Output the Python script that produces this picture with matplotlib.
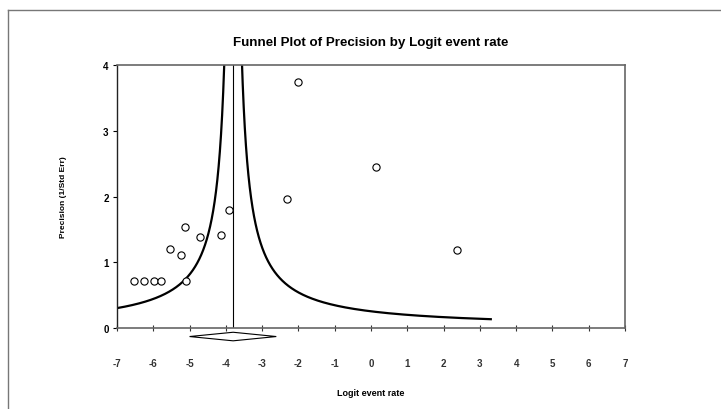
import numpy as np
import matplotlib.pyplot as plt
from matplotlib.patches import Polygon
from matplotlib.lines import Line2D

# study points: logit event rate vs precision (1/SE)
logit_rate = [-6.53, -6.26, -5.97, -5.79, -5.11, -5.55, -5.23, -5.13, -4.71,
              -4.14, -3.92, -2.32, -2.02, 0.15, 2.38]
precision = [0.72, 0.72, 0.72, 0.72, 0.72, 1.21, 1.11, 1.53, 1.39,
             1.42, 1.79, 1.96, 3.74, 2.45, 1.19]

mean_effect = -3.80
funnel_c = 0.98
prec_min = 0.138
diamond_lo, diamond_hi = -5.0, -2.61

x_ticks = list(range(-7, 8))
y_ticks = [0, 1, 2, 3, 4]

plt.rcParams['font.family'] = ['Liberation Sans', 'DejaVu Sans']
plt.rcParams['font.weight'] = 'bold'
plt.rcParams['axes.unicode_minus'] = False

fig = plt.figure(figsize=(7.21, 4.10), dpi=100)
ax = fig.add_axes([117 / 721, 1 - 329.3 / 410, (625 - 117) / 721, (329.3 - 65.7) / 410])

# outer frame (only top and left lines)
fig.add_artist(Line2D([8 / 721, 1], [1 - 11 / 410, 1 - 11 / 410], transform=fig.transFigure,
                      color='#777777', lw=1.0))
fig.add_artist(Line2D([8 / 721, 8 / 721], [0, 1 - 11 / 410], transform=fig.transFigure,
                      color='#777777', lw=1.0))

# funnel
p = np.linspace(prec_min, 6, 2000)
ax.plot(mean_effect - funnel_c / p, p, color='black', lw=1.6)
ax.plot(mean_effect + funnel_c / p, p, color='black', lw=1.6)
ax.plot([mean_effect, mean_effect], [0, 4], color='black', lw=0.8)

ax.plot(logit_rate, precision, 'o', mfc='white', mec='black', ms=5.2, mew=0.8, zorder=5)

# summary diamond under the axis
dia = Polygon([[diamond_lo, -0.125], [mean_effect, -0.06], [diamond_hi, -0.125], [mean_effect, -0.19]],
              closed=True, fc='white', ec='black', lw=0.8, clip_on=False)
ax.add_patch(dia)

ax.set_xlim(-7, 7)
ax.set_ylim(0, 4)
ax.set_xticks(x_ticks)
ax.set_yticks(y_ticks)
ax.tick_params(axis='x', direction='inout', length=5, width=0.8, pad=19, labelsize=7, colors='#333333')
ax.tick_params(axis='y', direction='out', length=3, width=0.8, pad=3, labelsize=7)
for s in ['top', 'right', 'bottom']:
    ax.spines[s].set_color('#666666')
    ax.spines[s].set_linewidth(1.2)
ax.spines['left'].set_color('#222222')
ax.spines['left'].set_linewidth(1.0)

ax.set_title('Funnel Plot of Precision by Logit event rate', fontsize=9.6, fontweight='bold', pad=14)
ax.set_xlabel('Logit event rate', fontsize=6.5, fontweight='bold', labelpad=14)
ax.set_ylabel('Precision (1/Std Err)', fontsize=6, fontweight='bold', labelpad=26)

fig.savefig('out.png', dpi=100)
